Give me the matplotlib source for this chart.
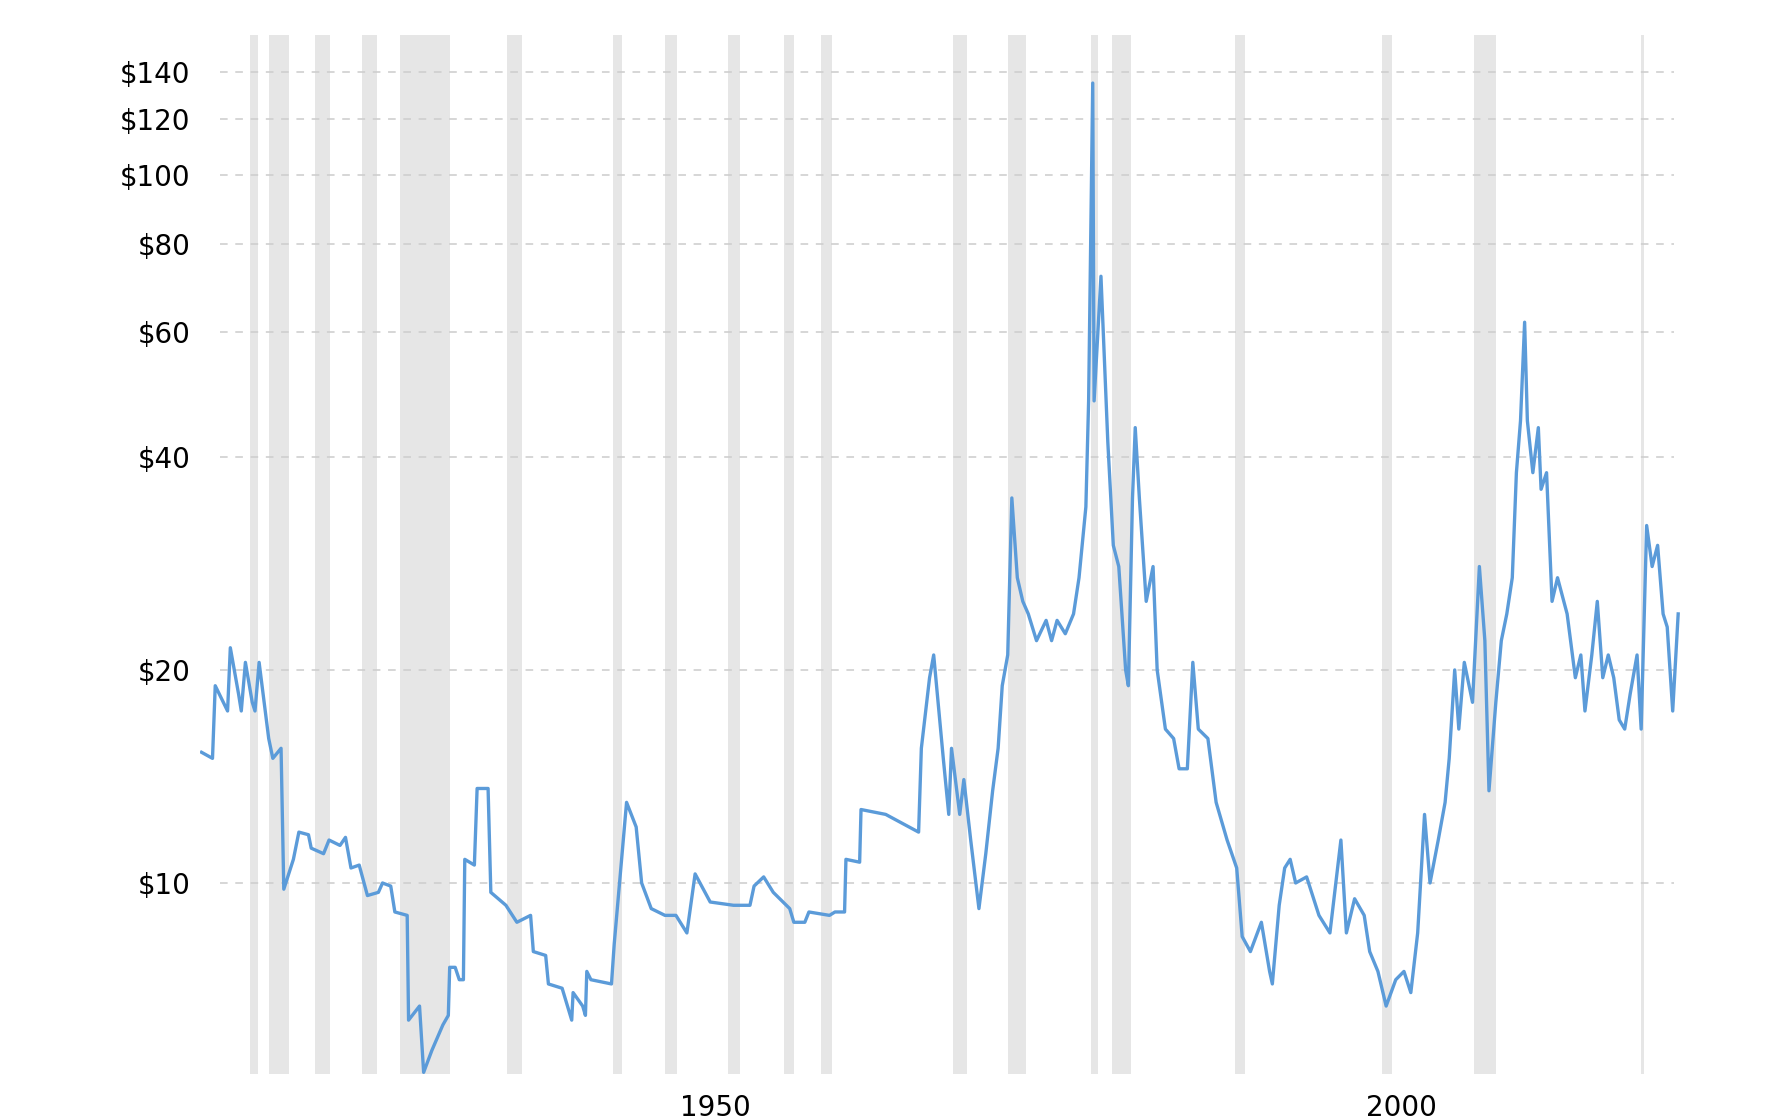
import matplotlib
matplotlib.use("Agg")
import matplotlib.pyplot as plt
from matplotlib.ticker import FixedLocator, NullLocator

years = [1915.1,1915.9,1916.1,1917.0,1917.2,1917.8,1918.0,1918.3,1918.8,1919.0,1919.3,1920.0,1920.3,1920.9,1921.1,
1921.8,1922.2,1922.9,1923.1,1924.0,1924.4,1925.2,1925.6,1926.0,1926.6,1927.2,1928.0,1928.3,1928.9,1929.2,1930.1,1930.2,
1931.0,1931.3,1931.9,1932.7,1933.1,1933.2,1933.6,1933.9,1934.2,1934.3,1935.0,1935.2,1936.0,1936.2,1937.3,1938.1,1939.1,
1939.3,1940.2,1940.4,1941.4,1942.1,1942.2,1942.9,1943.1,1943.2,1943.5,1945.0,1945.2,1946.1,1946.8,1947.2,1947.9,1948.9,
1949.7,1950.5,1951.1,1952.2,1953.9,1955.1,1955.4,1956.1,1956.8,1958.0,1958.3,1959.1,1959.4,1960.9,1961.3,1962.0,1962.1,
1963.1,1963.2,1965.0,1966.7,1967.4,1967.6,1968.2,1968.5,1969.2,1969.6,1969.8,1970.4,1970.7,1971.2,1971.8,1972.3,1972.8,
1973.2,1973.5,1973.9,1974.2,1974.6,1975.0,1975.4,1976.0,1976.7,1977.1,1977.5,1978.1,1978.7,1979.1,1979.6,1979.8,1980.1,
1980.2,1980.7,1981.2,1981.6,1982.0,1982.5,1982.7,1983.0,1983.2,1983.5,1984.0,1984.5,1984.8,1985.4,1986.0,1986.4,1987.0,
1987.4,1987.8,1988.5,1989.1,1989.9,1990.6,1991.0,1991.6,1992.4,1993.0,1993.2,1993.7,1994.1,1994.5,1994.9,1995.7,1996.6,
1997.4,1998.2,1998.6,1999.2,1999.9,2000.3,2000.9,2001.5,2002.2,2002.8,2003.3,2003.8,2004.3,2004.7,2005.3,2005.8,2006.1,
2006.5,2006.8,2007.2,2007.8,2008.3,2008.7,2009.0,2009.5,2009.9,2010.3,2010.7,2011.0,2011.3,2011.6,2011.8,2012.2,2012.6,
2012.8,2013.2,2013.6,2014.0,2014.7,2015.3,2015.7,2016.0,2016.5,2016.9,2017.3,2017.7,2018.1,2018.5,2018.9,2019.3,2019.8,
2020.1,2020.5,2020.9,2021.3,2021.7,2022.0,2022.4,2022.8]
prices = [15.3,15.0,19.0,17.5,21.5,18.5,17.5,20.5,18.0,17.5,20.5,16.0,15.0,15.5,9.8,
10.8,11.8,11.7,11.2,11.0,11.5,11.3,11.6,10.5,10.6,9.6,9.7,10.0,9.9,9.1,9.0,6.4,
6.7,5.4,5.8,6.3,6.5,7.6,7.6,7.3,7.3,10.8,10.6,13.6,13.6,9.7,9.3,8.8,9.0,
8.0,7.9,7.2,7.1,6.4,7.0,6.7,6.5,7.5,7.3,7.2,8.2,13.0,12.0,10.0,9.2,9.0,
9.0,8.5,10.3,9.4,9.3,9.3,9.9,10.2,9.7,9.2,8.8,8.8,9.1,9.0,9.1,9.1,10.8,
10.7,12.7,12.5,12.0,11.8,15.5,19.5,21.0,15.0,12.5,15.5,12.5,14.0,11.5,9.2,11.0,13.5,
15.5,19.0,21.0,35.0,27.0,25.0,24.0,22.0,23.5,22.0,23.5,22.5,24.0,27.0,34.0,48.0,135.0,
48.0,72.0,42.0,30.0,28.0,20.0,19.0,35.0,44.0,35.0,25.0,28.0,20.0,16.5,16.0,14.5,14.5,
20.5,16.5,16.0,13.0,11.5,10.5,8.4,8.0,8.8,7.5,7.2,9.3,10.5,10.8,10.0,10.2,9.0,
8.5,11.5,8.5,9.5,9.0,8.0,7.5,6.7,7.3,7.5,7.0,8.5,12.5,10.0,11.5,13.0,15.0,
20.0,16.5,20.5,18.0,28.0,22.0,13.5,18.0,22.0,24.0,27.0,38.0,45.0,62.0,45.0,38.0,44.0,
36.0,38.0,25.0,27.0,24.0,19.5,21.0,17.5,21.0,25.0,19.5,21.0,19.5,17.0,16.5,18.5,21.0,
16.5,32.0,28.0,30.0,24.0,23.0,17.5,24.0]

recessions = [(1918.6,1919.2),(1920.0,1921.5),(1923.4,1924.5),(1926.8,1927.9),(1929.6,1933.2),
(1937.4,1938.5),(1945.1,1945.8),(1948.9,1949.8),(1953.5,1954.4),(1957.6,1958.3),(1960.3,1961.1),
(1969.9,1970.9),(1973.9,1975.2),(1980.0,1980.5),(1981.5,1982.9),(1990.5,1991.2),(2001.2,2001.9),
(2007.9,2009.5),(2020.1,2020.3)]

ytick_vals = [10,20,40,60,80,100,120,140]
ytick_labels = ["$10","$20","$40","$60","$80","$100","$120","$140"]
xtick_vals = [1950,2000]
xtick_labels = ["1950","2000"]

fig = plt.figure(figsize=(17.76,11.2), dpi=100)
ax = fig.add_axes([0.1127, 0.041, 0.8384, 0.928])
for a,b in recessions:
    ax.axvspan(a,b,color="#e6e6e6",lw=0,zorder=0)
ax.plot(years, prices, color="#5b9bd9", lw=2.4, zorder=3)
ax.set_yscale("log")
ax.set_ylim(5.37,158)
ax.set_xlim(1915,2023.6)
ax.yaxis.set_major_locator(FixedLocator(ytick_vals))
ax.yaxis.set_minor_locator(NullLocator())
ax.set_yticks(ytick_vals, ytick_labels, fontsize=20)
ax.set_xticks(xtick_vals, xtick_labels, fontsize=20)
for lbl in ax.get_xticklabels():
    lbl.set_ha("left")
for y in ytick_vals:
    ax.axhline(y, color="#cccccc", ls=(0,(5,5)), lw=1.1, zorder=1, xmin=0.013, xmax=0.99)
ax.tick_params(length=0, pad=14)
ax.tick_params(axis="y", pad=7)
for s in ax.spines.values():
    s.set_visible(False)
fig.savefig("out.png", dpi=100)
